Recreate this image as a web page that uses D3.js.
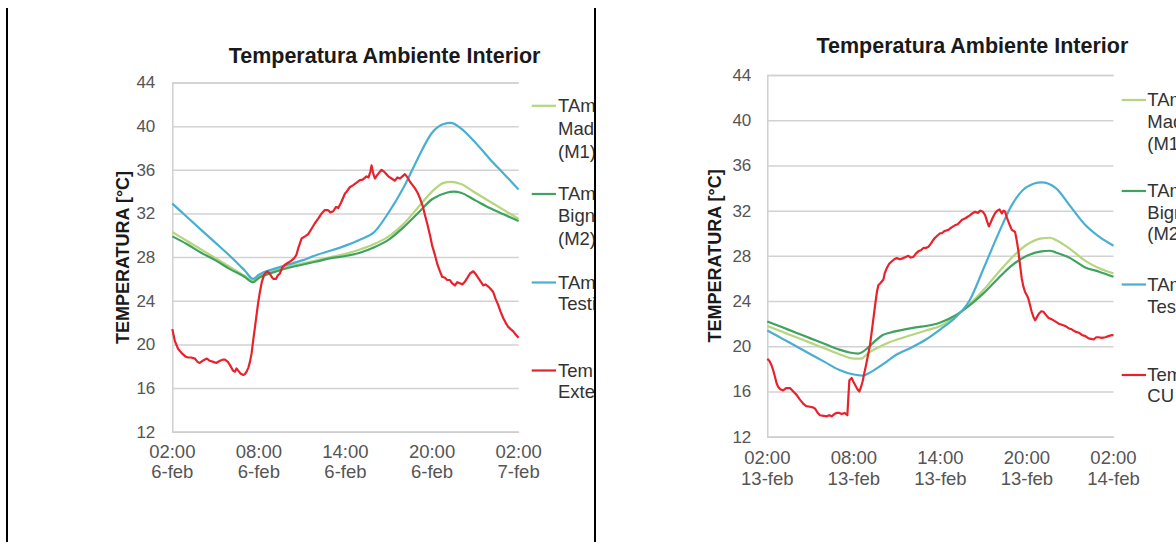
<!DOCTYPE html>
<html><head><meta charset="utf-8">
<script src="https://cdn.jsdelivr.net/npm/d3@7"></script>
<style>
body{margin:0;background:#fff}
svg{display:block}
text{font-family:"Liberation Sans",Arial,sans-serif}
</style>
</head><body>
<svg id="c" width="1176" height="542"></svg>
<script>
// ---------- DATA ----------
const chartTitle = "Temperatura Ambiente Interior";
const yAxisTitle = "TEMPERATURA [°C]";
const yTicks = [12, 16, 20, 24, 28, 32, 36, 40, 44];
const xTickHours = [0, 6, 12, 18, 24];               // hours after 02:00
const xTickTimes = ["02:00", "08:00", "14:00", "20:00", "02:00"];
const xTickDaysFeb6 = ["6-feb", "6-feb", "6-feb", "6-feb", "7-feb"];
const xTickDaysFeb13 = ["13-feb", "13-feb", "13-feb", "13-feb", "14-feb"];
const legendFeb6 = [["TAmb", "Madreselva", "(M1)"], ["TAmb", "Bignonia", "(M2)"], ["TAmb", "Testigo"], ["Temperatura", "Exterior"]];
const legendFeb13 = [["TAmb", "Madreselva", "(M1)"], ["TAmb", "Bignonia", "(M2)"], ["TAmb", "Testigo"], ["Temperatura", "CU Exterior"]];
const seriesColors = ["#b5d67c", "#3fa35f", "#48afd2", "#e8222c"];

// 6-feb : [hour after 02:00, °C]
const feb6M1 = [[0,30.3],[1,29.5],[2,28.7],[3,27.9],[4,27.1],[5,26.3],[5.6,25.8],[6,26.2],[7,26.7],[8,27.1],[9,27.4],[10,27.7],[11,28.0],[12,28.3],[13,28.7],[14,29.2],[15,29.9],[16,31.0],[17,32.5],[18,34.0],[18.8,34.8],[19.3,34.9],[20,34.7],[21,33.9],[22,33.1],[23,32.3],[24,31.5]];
const feb6M2 = [[0,29.9],[1,29.2],[2,28.4],[3,27.7],[4,26.9],[5,26.2],[5.6,25.7],[6,26.1],[7,26.6],[8,27.0],[9,27.3],[10,27.6],[11,27.9],[12,28.1],[13,28.4],[14,28.9],[15,29.6],[16,30.7],[17,32.0],[18,33.3],[19,33.9],[19.5,34.0],[20,33.9],[21,33.2],[22,32.5],[23,31.9],[24,31.3]];
const feb6Testigo = [[0,32.9],[1,31.7],[2,30.5],[3,29.3],[4,28.1],[5,26.8],[5.6,26.0],[6,26.4],[7,26.9],[8,27.3],[9,27.7],[10,28.2],[11,28.6],[12,29.05],[13,29.6],[14,30.3],[15,32.1],[16,34.3],[17,37.0],[18,39.4],[18.8,40.2],[19.3,40.3],[20,39.8],[21,38.5],[22,37.0],[23,35.6],[24,34.2]];
const feb6Exterior = [[0,21.4],[0.18,20.3],[0.4,19.6],[0.65,19.2],[0.9,18.9],[1.1,18.8],[1.3,18.8],[1.57,18.7],[1.75,18.4],[1.9,18.3],[2.1,18.5],[2.4,18.7],[2.6,18.5],[2.84,18.4],[3.05,18.3],[3.3,18.5],[3.5,18.6],[3.65,18.6],[3.85,18.4],[4.0,18.1],[4.2,17.6],[4.34,17.5],[4.45,17.8],[4.57,17.6],[4.75,17.3],[4.92,17.2],[5.05,17.3],[5.15,17.5],[5.28,17.9],[5.38,18.4],[5.5,19.2],[5.6,20.3],[5.72,21.5],[5.84,22.7],[5.95,23.8],[6.07,24.8],[6.2,25.7],[6.37,26.4],[6.5,26.6],[6.6,26.7],[6.75,26.5],[6.88,26.2],[7.0,26.0],[7.18,26.0],[7.3,26.3],[7.46,26.5],[7.6,27.0],[7.8,27.3],[8.05,27.5],[8.27,27.7],[8.45,27.9],[8.6,28.2],[8.75,28.9],[8.96,29.7],[9.2,29.9],[9.42,30.1],[9.65,30.6],[9.88,31.1],[10.1,31.5],[10.35,32.0],[10.55,32.3],[10.8,32.3],[10.95,32.1],[11.15,32.2],[11.35,32.6],[11.5,32.5],[11.7,33.0],[11.96,33.8],[12.08,34.0],[12.3,34.4],[12.54,34.6],[12.75,34.8],[13.0,35.05],[13.2,35.1],[13.46,35.4],[13.6,35.3],[13.72,35.8],[13.81,36.4],[13.92,35.7],[14.04,35.2],[14.25,35.6],[14.5,36.0],[14.7,35.8],[14.97,35.4],[15.2,35.2],[15.43,35.0],[15.6,35.3],[15.78,35.2],[15.95,35.4],[16.12,35.6],[16.3,35.3],[16.47,34.9],[16.65,34.6],[16.82,34.3],[17.0,33.9],[17.16,33.4],[17.35,32.7],[17.51,31.85],[17.7,30.9],[17.86,30.0],[18.0,29.1],[18.2,28.2],[18.38,27.3],[18.55,26.7],[18.7,26.2],[18.9,26.1],[19.05,25.9],[19.24,25.9],[19.4,25.6],[19.59,25.4],[19.75,25.7],[19.93,25.6],[20.1,25.5],[20.28,25.75],[20.45,26.1],[20.63,26.5],[20.86,26.7],[21.05,26.4],[21.2,26.1],[21.4,25.7],[21.55,25.4],[21.7,25.5],[21.9,25.3],[22.05,25.1],[22.24,24.8],[22.4,24.2],[22.59,23.6],[22.75,23.0],[22.94,22.4],[23.1,22.0],[23.28,21.6],[23.45,21.4],[23.63,21.2],[23.8,20.9],[24,20.6]];

// 13-feb : [hour after 02:00, °C]
const feb13M1 = [[0,21.8],[1,21.3],[2,20.8],[3,20.3],[4,19.8],[5,19.3],[6,18.9],[6.5,18.9],[7,19.4],[8,20.1],[9,20.6],[10,21.0],[11,21.4],[12,21.8],[13,22.6],[14,23.7],[15,25.0],[16,26.5],[17,27.9],[18,29.0],[19,29.55],[19.6,29.6],[20,29.4],[21,28.6],[22,27.6],[23,26.9],[24,26.45]];
const feb13M2 = [[0,22.2],[1,21.7],[2,21.2],[3,20.7],[4,20.2],[5,19.7],[5.7,19.45],[6.3,19.35],[7,19.9],[7.5,20.5],[8,21.0],[8.5,21.2],[10,21.6],[12,22.1],[13,22.7],[14,23.6],[15,24.7],[16,26.0],[17,27.2],[18,28.0],[19,28.4],[19.6,28.45],[20,28.3],[21,27.8],[22,27.0],[23,26.6],[24,26.15]];
const feb13Testigo = [[0,21.4],[1,20.7],[2,20.0],[3,19.3],[4,18.6],[5,17.9],[6,17.5],[6.6,17.4],[7,17.6],[8,18.4],[9,19.3],[10,19.9],[11,20.6],[12,21.5],[13,22.5],[14,24.0],[15,26.9],[16,29.9],[17,32.6],[18,34.1],[19,34.5],[20,34.0],[21,32.4],[22,30.8],[23,29.7],[24,28.9]];
const feb13Exterior = [[0,18.9],[0.15,18.7],[0.3,18.3],[0.45,17.7],[0.53,17.3],[0.65,16.7],[0.76,16.4],[0.9,16.2],[1.1,16.1],[1.3,16.3],[1.57,16.3],[1.8,16.0],[2.03,15.7],[2.25,15.3],[2.5,14.9],[2.7,14.7],[2.96,14.65],[3.15,14.6],[3.3,14.5],[3.5,14.1],[3.65,13.9],[3.9,13.85],[4.1,13.8],[4.3,13.9],[4.46,13.8],[4.65,14.0],[4.8,14.1],[5.0,14.1],[5.16,14.0],[5.35,14.1],[5.55,13.9],[5.62,15.5],[5.69,17.0],[5.85,17.2],[5.95,16.9],[6.08,16.6],[6.25,16.2],[6.38,16.0],[6.5,16.4],[6.61,16.9],[6.72,17.6],[6.84,18.3],[6.98,19.2],[7.12,20.1],[7.3,21.9],[7.47,23.6],[7.6,24.8],[7.7,25.4],[7.85,25.6],[8.05,25.9],[8.15,26.5],[8.28,26.9],[8.45,27.3],[8.62,27.5],[8.8,27.7],[8.97,27.8],[9.2,27.7],[9.43,27.8],[9.6,27.9],[9.78,28.0],[9.95,27.85],[10.13,27.9],[10.3,28.2],[10.47,28.4],[10.65,28.5],[10.82,28.7],[11.0,28.7],[11.17,28.8],[11.35,29.1],[11.5,29.4],[11.63,29.6],[11.8,29.8],[11.98,30.0],[12.1,30.0],[12.3,30.2],[12.55,30.3],[12.75,30.5],[13.0,30.7],[13.2,30.8],[13.5,31.2],[13.7,31.3],[13.95,31.5],[14.15,31.7],[14.4,31.9],[14.6,31.8],[14.77,32.0],[14.95,31.9],[15.1,31.6],[15.25,31.0],[15.36,30.6],[15.5,31.0],[15.6,31.3],[15.8,31.8],[15.94,32.0],[16.1,32.1],[16.26,31.75],[16.38,32.0],[16.49,31.9],[16.6,31.4],[16.72,31.0],[16.85,30.6],[16.95,30.3],[17.08,30.2],[17.18,30.1],[17.3,29.3],[17.41,28.4],[17.52,27.2],[17.64,26.0],[17.75,25.3],[17.87,24.8],[18.0,24.5],[18.1,24.2],[18.22,23.6],[18.33,23.05],[18.45,22.6],[18.57,22.3],[18.7,22.6],[18.84,22.9],[19.0,23.1],[19.15,23.05],[19.3,22.8],[19.5,22.5],[19.7,22.4],[19.96,22.2],[20.2,22.0],[20.42,21.9],[20.65,21.8],[20.88,21.6],[21.1,21.5],[21.35,21.3],[21.6,21.2],[21.81,21.0],[22.05,20.9],[22.27,20.7],[22.45,20.65],[22.62,20.6],[22.8,20.8],[22.96,20.8],[23.2,20.75],[23.43,20.8],[23.65,20.9],[23.9,21.0],[24,20.95]];

// ---------- LAYOUT ----------
const panels = [
  {id:"p1", series:[feb6M1, feb6M2, feb6Testigo, feb6Exterior], days:xTickDaysFeb6, legend:legendFeb6,
   x0:172.3, x1:518.6, yTop:82.5, yBot:431.7, titleX:384.6, titleY:63, yTitleX:122.5, yTitleY:257.5,
   tickPad:17, xLab1:457.7, xLab2:478.4, legX0:531.7, legX1:556, legTextX:558,
   legY:[[105.8,128.3,151.2],[194,216,238.3],[282.5,304],[370.5,391.5]], clipX:594},
  {id:"p2", series:[feb13M1, feb13M2, feb13Testigo, feb13Exterior], days:xTickDaysFeb13, legend:legendFeb13,
   x0:767.3, x1:1113.5, yTop:75, yBot:436.7, titleX:972.4, titleY:53, yTitleX:715, yTitleY:255.8,
   tickPad:16, xLab1:464.2, xLab2:485, legX0:1121.7, legX1:1146, legTextX:1147.3,
   legY:[[100,121.7,143.3],[191,212.5,234],[284.5,306.5],[375,396]], clipX:1176}
];

const svg = d3.select("#c");

// panel borders (black vertical lines)
svg.append("line").attr("x1",7).attr("x2",7).attr("y1",8).attr("y2",542).attr("stroke","#000").attr("stroke-width",2);
svg.append("line").attr("x1",595).attr("x2",595).attr("y1",8).attr("y2",542).attr("stroke","#000").attr("stroke-width",2);

panels.forEach(p => {
  const x = d3.scaleLinear().domain([0, 24]).range([p.x0, p.x1]);
  const y = d3.scaleLinear().domain([12, 44]).range([p.yBot, p.yTop]);
  const defs = svg.append("defs");
  defs.append("clipPath").attr("id", "clip-" + p.id)
    .append("rect").attr("x", 0).attr("y", 0).attr("width", p.clipX).attr("height", 542);
  const g = svg.append("g").attr("clip-path", `url(#clip-${p.id})`);

  // title
  g.append("text").attr("x", p.titleX).attr("y", p.titleY).attr("text-anchor", "middle")
    .attr("font-size", 21.5).attr("font-weight", "bold").attr("fill", "#1a1a1a").text(chartTitle);

  // y axis title
  g.append("text").attr("transform", `translate(${p.yTitleX},${p.yTitleY}) rotate(-90)`)
    .attr("text-anchor", "middle").attr("dy", "0.35em")
    .attr("font-size", 18).attr("font-weight", "bold").attr("fill", "#1a1a1a").text(yAxisTitle);

  // y axis with gridlines
  const yAxis = d3.axisLeft(y).tickValues(yTicks).tickSize(-(p.x1 - p.x0)).tickPadding(p.tickPad).tickFormat(d3.format("d"));
  const ya = g.append("g").attr("transform", `translate(${p.x0},0)`).call(yAxis);
  ya.select(".domain").attr("stroke", "#cfcfcf").attr("stroke-width", 1.5);
  ya.selectAll(".tick line").attr("stroke", "#d2d2d2").attr("stroke-width", 1.5);
  ya.selectAll(".tick text").attr("font-size", 17).attr("fill", "#555").attr("font-family", "Liberation Sans, Arial, sans-serif");

  // x axis
  const xAxis = d3.axisBottom(x).tickValues(xTickHours).tickSize(0).tickFormat(() => "");
  const xa = g.append("g").attr("transform", `translate(0,${p.yBot})`).call(xAxis);
  xa.select(".domain").attr("stroke", "#cfcfcf").attr("stroke-width", 1.5);
  xTickHours.forEach((h, i) => {
    g.append("text").attr("x", x(h)).attr("y", p.xLab1).attr("text-anchor", "middle")
      .attr("font-size", 18.5).attr("fill", "#555").text(xTickTimes[i]);
    g.append("text").attr("x", x(h)).attr("y", p.xLab2).attr("text-anchor", "middle")
      .attr("font-size", 18.5).attr("fill", "#555").text(p.days[i]);
  });

  // series
  p.series.forEach((data, i) => {
    const line = d3.line().x(d => x(d[0])).y(d => y(d[1]))
      .curve(i === 3 ? d3.curveLinear : d3.curveMonotoneX);
    g.append("path").datum(data).attr("d", line).attr("fill", "none")
      .attr("stroke", seriesColors[i]).attr("stroke-width", i === 3 ? 2.2 : 2.2)
      .attr("stroke-linejoin", "round");
  });

  // legend
  p.legend.forEach((lines, i) => {
    const ly = p.legY[i];
    g.append("line").attr("x1", p.legX0).attr("x2", p.legX1).attr("y1", ly[0]).attr("y2", ly[0])
      .attr("stroke", seriesColors[i]).attr("stroke-width", 2.2);
    lines.forEach((t, j) => {
      g.append("text").attr("x", p.legTextX).attr("y", ly[j]).attr("dy", "0.35em")
        .attr("font-size", 18.5).attr("fill", "#333").text(t);
    });
  });
});
</script>
</body></html>
